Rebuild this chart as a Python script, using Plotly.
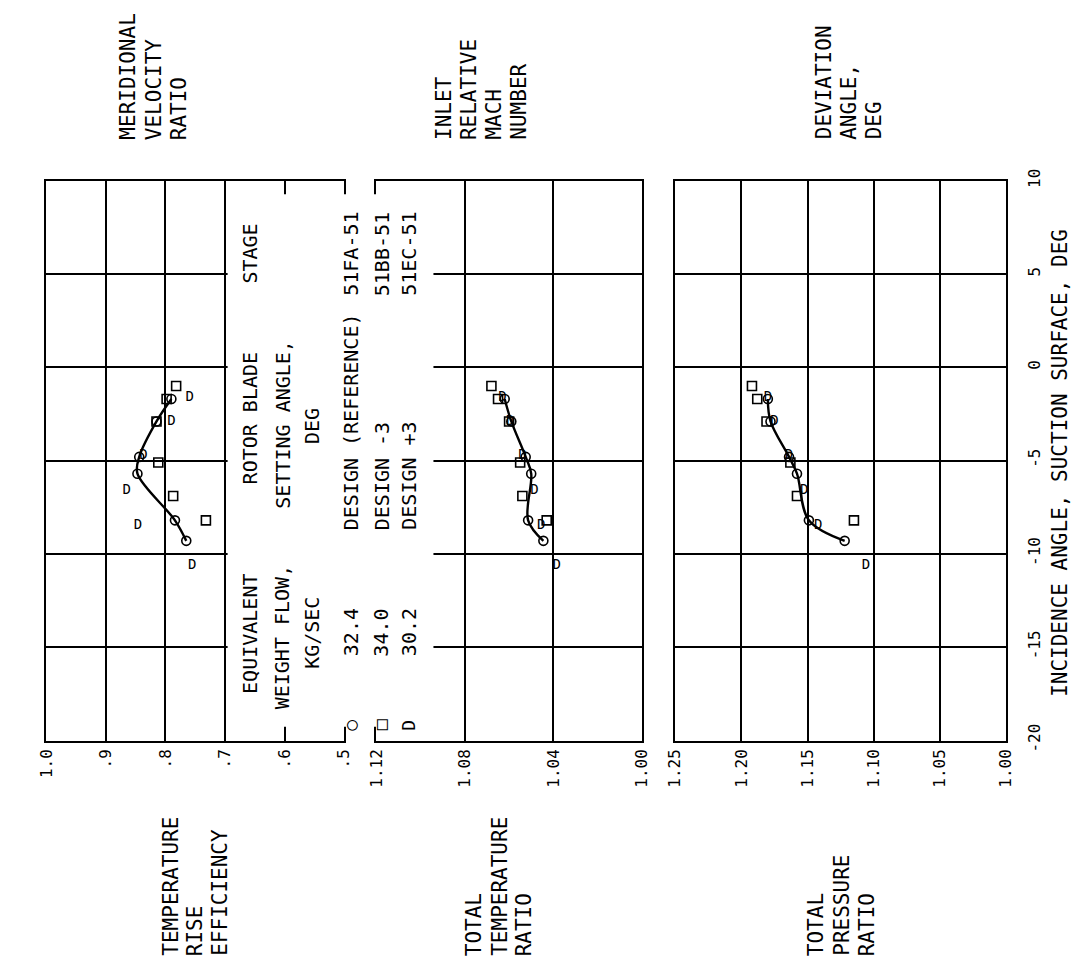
import plotly.graph_objects as go

# ---------------- data ----------------
incidence_ref = [-1.7, -2.9, -4.8, -5.7, -8.2, -9.3]
incidence_m3 = [-1.0, -1.7, -2.9, -5.1, -6.9, -8.2]
incidence_p3 = [-1.6, -2.9, -4.7, -6.6, -8.5, -10.6]

eff_ref = [0.790, 0.815, 0.844, 0.847, 0.784, 0.765]
eff_m3 = [0.782, 0.798, 0.815, 0.812, 0.787, 0.732]
eff_p3 = [0.759, 0.790, 0.837, 0.865, 0.846, 0.755]

ttr_ref = [1.062, 1.059, 1.0525, 1.050, 1.0514, 1.0445]
ttr_m3 = [1.068, 1.065, 1.060, 1.055, 1.054, 1.043]
ttr_p3 = [1.063, 1.0595, 1.054, 1.0485, 1.0455, 1.0385]

tpr_ref = [1.180, 1.178, 1.164, 1.158, 1.149, 1.122]
tpr_m3 = [1.192, 1.188, 1.181, 1.163, 1.158, 1.115]
tpr_p3 = [1.180, 1.175, 1.164, 1.1525, 1.142, 1.106]

eff_ticks = [1.0, 0.9, 0.8, 0.7, 0.6, 0.5]
eff_ticklabels = ["1.0", ".9", ".8", ".7", ".6", ".5"]
ttr_ticks = [1.12, 1.08, 1.04, 1.00]
ttr_ticklabels = ["1.12", "1.08", "1.04", "1.00"]
tpr_ticks = [1.25, 1.20, 1.15, 1.10, 1.05, 1.00]
tpr_ticklabels = ["1.25", "1.20", "1.15", "1.10", "1.05", "1.00"]
inc_ticks = [-20, -15, -10, -5, 0, 5, 10]
inc_ticklabels = ["-20", "-15", "-10", "-5", "0", "5", "10"]

flows = ["32.4", "34.0", "30.2"]
settings = ["DESIGN (REFERENCE)", "DESIGN -3", "DESIGN +3"]
stages = ["51FA-51", "51BB-51", "51EC-51"]

# ---------------- layout helpers ----------------
W, H = 1085, 970
FONT = "DejaVu Sans Mono"


def px(x):
    return x / W


def py(y):
    return 1 - y / H


fig = go.Figure()

panels = [
    ("x", "y", eff_ref, eff_m3, eff_p3),
    ("x2", "y", ttr_ref, ttr_m3, ttr_p3),
    ("x3", "y", tpr_ref, tpr_m3, tpr_p3),
]
for xa, ya, ref, m3, p3 in panels:
    fig.add_trace(go.Scatter(x=ref, y=incidence_ref, xaxis=xa, yaxis=ya, mode="lines+markers",
                             line=dict(color="black", width=2.4, shape="spline", smoothing=1.0),
                             marker=dict(symbol="circle-open", size=9, color="black", line=dict(width=1.6)),
                             showlegend=False, hoverinfo="skip"))
    fig.add_trace(go.Scatter(x=m3, y=incidence_m3, xaxis=xa, yaxis=ya, mode="markers",
                             marker=dict(symbol="square-open", size=9, color="black", line=dict(width=1.6)),
                             showlegend=False, hoverinfo="skip"))
    fig.add_trace(go.Scatter(x=p3, y=incidence_p3, xaxis=xa, yaxis=ya, mode="text", text=["D"] * len(p3),
                             textposition="middle center",
                             textfont=dict(family=FONT, size=14, color="black"),
                             showlegend=False, hoverinfo="skip"))

common_x = dict(tickangle=-90, ticks="inside", ticklen=14, tickwidth=2, tickcolor="black",
                showgrid=True, gridcolor="black", gridwidth=1.8, showline=True, linecolor="black",
                linewidth=2.4, mirror="allticks", anchor="y", zeroline=False,
                tickfont=dict(family=FONT, size=16, color="black"), fixedrange=True)

fig.update_layout(
    width=W, height=H, autosize=False,
    margin=dict(l=0, r=0, t=0, b=0),
    paper_bgcolor="white", plot_bgcolor="white",
    xaxis=dict(domain=[px(37), px(340)], range=[1.0, 0.5], tickvals=eff_ticks, ticktext=eff_ticklabels, **common_x),
    xaxis2=dict(domain=[px(373), px(643)], range=[1.12, 1.00], tickvals=ttr_ticks, ticktext=ttr_ticklabels, **common_x),
    xaxis3=dict(domain=[px(677), px(1014)], range=[1.25, 1.00], tickvals=tpr_ticks, ticktext=tpr_ticklabels, **common_x),
    yaxis=dict(domain=[py(747), py(173)], range=[-20, 10], tickvals=inc_ticks, ticktext=inc_ticklabels,
               anchor="x3", side="right", tickangle=-90, ticks="inside", ticklen=6, tickcolor="black",
               showgrid=True, gridcolor="black", gridwidth=1.8, showline=True, linecolor="black",
               linewidth=2.4, mirror="all", zeroline=False, ticklabelstandoff=12,
               tickfont=dict(family=FONT, size=16, color="black"), fixedrange=True),
)

# white mask for the legend region (grid removed there)
fig.add_shape(type="rect", xref="paper", yref="paper", x0=px(221.5), x1=px(431), y0=py(733), y1=py(187),
              fillcolor="white", line=dict(width=0), layer="above")

annots = []


def txt(x, y, s, xanchor="center", yanchor="middle", size=20):
    annots.append(dict(x=px(x), y=py(y), xref="paper", yref="paper", text=s, showarrow=False,
                       textangle=-90, xanchor=xanchor, yanchor=yanchor, align="left",
                       borderpad=0, font=dict(family=FONT, size=size, color="black")))


def block(xs, y, lines, size=21):
    for xx, line in zip(xs, lines):
        txt(xx, y, line, yanchor="bottom", size=size)


# axis titles (top side)
block([120, 146, 172], 132, ["MERIDIONAL", "VELOCITY", "RATIO"])
block([441, 467, 493, 518], 132, ["INLET", "RELATIVE", "MACH", "NUMBER"])
block([828, 854, 879], 132, ["DEVIATION", "ANGLE,", "DEG"])
# axis titles (bottom side)
block([163, 188, 213], 969, ["TEMPERATURE", "RISE", "EFFICIENCY"])
block([472, 498, 523], 969, ["TOTAL", "TEMPERATURE", "RATIO"])
block([820, 846, 872], 969, ["TOTAL", "PRESSURE", "RATIO"])
# incidence axis title
txt(1068, 462, "INCIDENCE ANGLE, SUCTION SURFACE, DEG", size=21)

# legend block
txt(244, 638, "EQUIVALENT")
txt(277, 641, "WEIGHT FLOW,")
txt(308, 637, "KG/SEC")
txt(244, 417, "ROTOR BLADE")
txt(277, 423, "SETTING ANGLE,")
txt(308, 425, "DEG")
txt(244, 248, "STAGE")
row_x = [347, 378, 406]
symbols = ["○", "□", "D"]
for i in range(3):
    txt(row_x[i], 731, symbols[i], size=18)
    txt(row_x[i], 636, flows[i])
    txt(row_x[i], 532, settings[i], yanchor="bottom")
    txt(row_x[i], 248, stages[i])

fig.update_layout(annotations=annots)

fig.write_html("out.html", config={"displayModeBar": False},
               post_script="document.body.style.margin='0';document.body.style.overflow='hidden';")
